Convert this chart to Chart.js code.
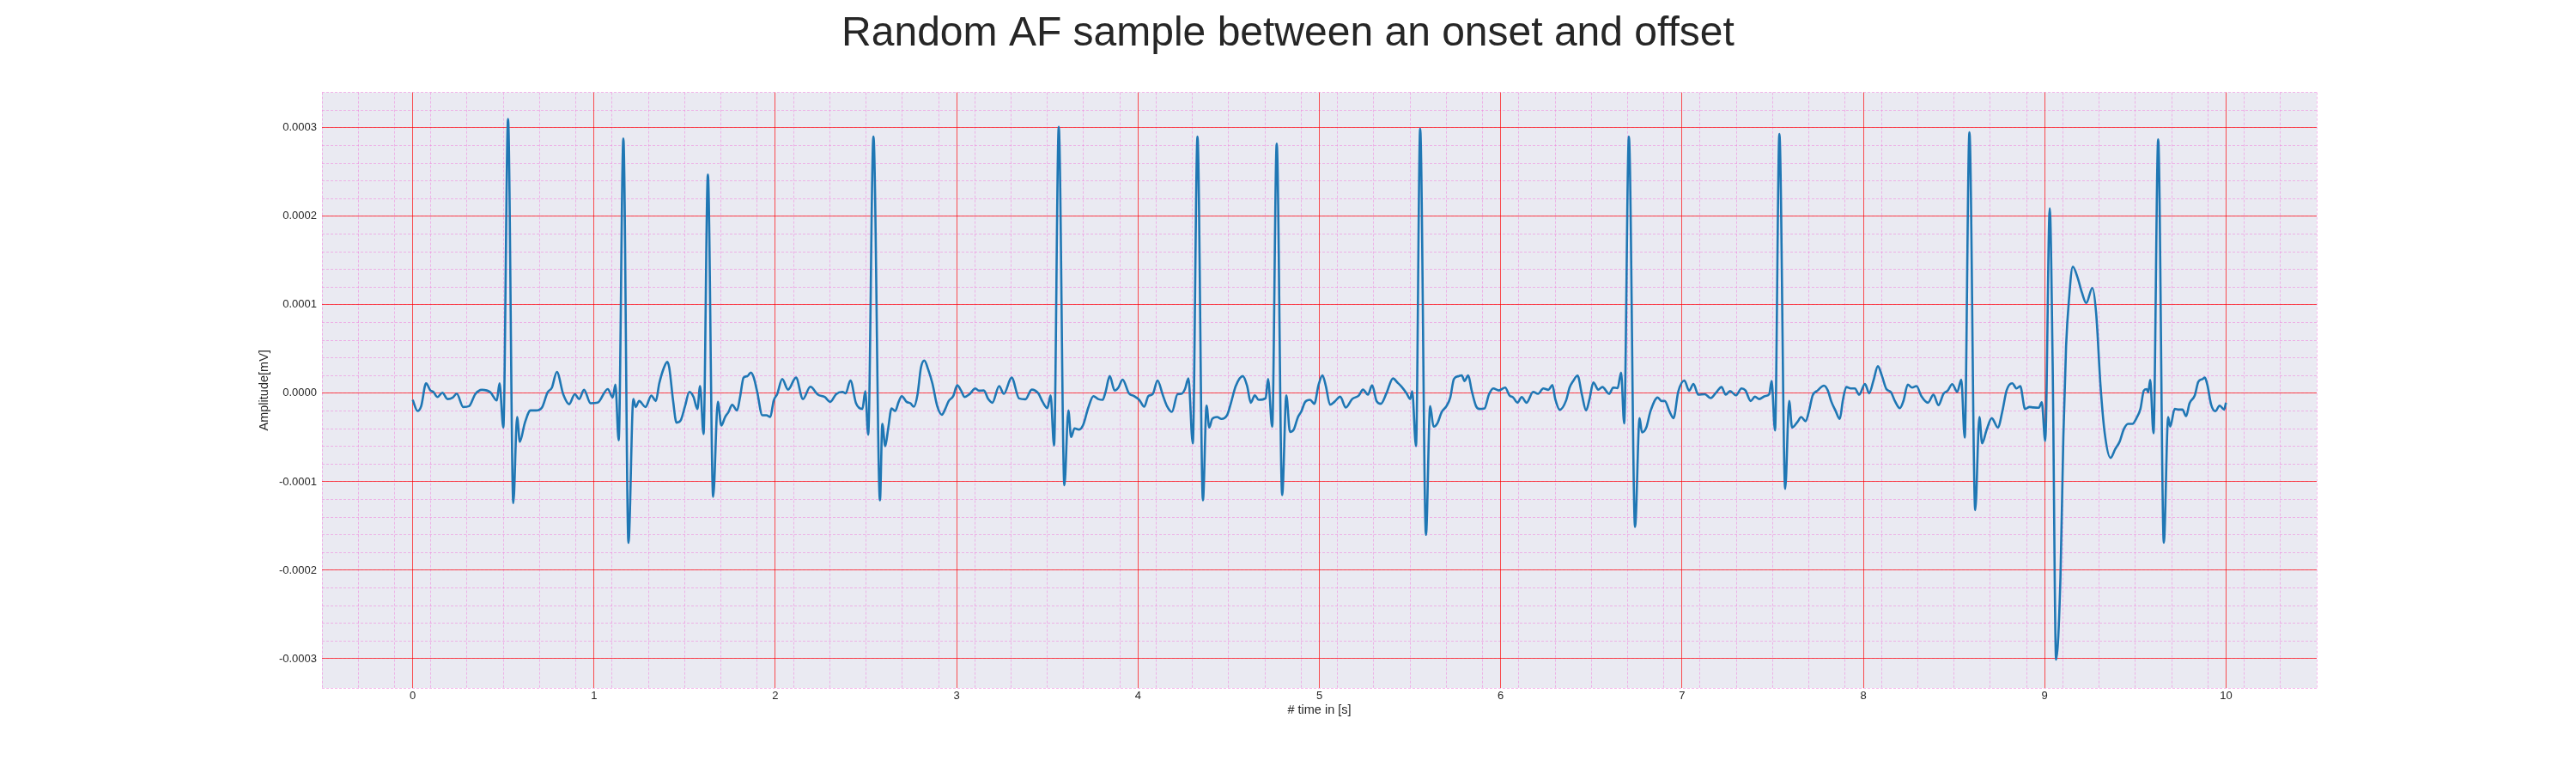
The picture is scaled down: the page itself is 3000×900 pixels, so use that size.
<!DOCTYPE html>
<html>
<head>
<meta charset="utf-8">
<title>Random AF sample</title>
<script src="https://cdn.jsdelivr.net/npm/chart.js@4.4.1/dist/chart.umd.min.js"></script>
<style>
  html, body { margin: 0; padding: 0; background: #ffffff; }
  #wrap { width: 3000px; height: 900px; }
</style>
</head>
<body>
<div id="wrap"><canvas id="ecg" width="3000" height="900"></canvas></div>
<script>
// sample times in seconds, one line per second of signal
const timeS = [
  0, 0.027, 0.047, 0.074, 0.098, 0.114, 0.137, 0.164, 0.192, 0.221, 0.243, 0.279, 0.311, 0.345, 0.382, 0.429, 0.464, 0.479, 0.5, 0.526, 0.555, 0.576, 0.591, 0.618, 0.65, 0.681, 0.713, 0.744, 0.768, 0.795, 0.831, 0.863, 0.894, 0.918, 0.945, 0.981,
  1.02, 1.076, 1.103, 1.118, 1.136, 1.162, 1.19, 1.217, 1.23, 1.249, 1.284, 1.316, 1.341, 1.36, 1.384, 1.404, 1.415, 1.436, 1.455, 1.478, 1.502, 1.526, 1.549, 1.57, 1.585, 1.604, 1.628, 1.657, 1.683, 1.702, 1.723, 1.742, 1.762, 1.789, 1.805, 1.825, 1.846, 1.865, 1.88, 1.9, 1.928, 1.951, 1.972, 1.991,
  2.01, 2.038, 2.07, 2.114, 2.152, 2.193, 2.235, 2.272, 2.303, 2.335, 2.37, 2.388, 2.414, 2.445, 2.48, 2.496, 2.512, 2.541, 2.577, 2.59, 2.606, 2.622, 2.641, 2.661, 2.68, 2.697, 2.724, 2.745, 2.764, 2.784, 2.803, 2.822, 2.842, 2.866, 2.893, 2.918, 2.937, 2.956, 2.981,
  3.003, 3.024, 3.044, 3.071, 3.103, 3.123, 3.15, 3.174, 3.197, 3.234, 3.26, 3.303, 3.344, 3.379, 3.414, 3.45, 3.474, 3.5, 3.518, 3.537, 3.563, 3.594, 3.616, 3.631, 3.65, 3.675, 3.698, 3.726, 3.754, 3.781, 3.805, 3.821, 3.844, 3.871, 3.892, 3.915, 3.95, 3.978,
  4.007, 4.034, 4.057, 4.081, 4.108, 4.136, 4.16, 4.187, 4.218, 4.239, 4.259, 4.278, 4.302, 4.328, 4.358, 4.378, 4.393, 4.409, 4.436, 4.46, 4.491, 4.512, 4.539, 4.578, 4.602, 4.622, 4.644, 4.665, 4.704, 4.717, 4.74, 4.765, 4.795, 4.818, 4.838, 4.859, 4.881, 4.901, 4.922, 4.949, 4.972, 4.996,
  5.017, 5.036, 5.059, 5.083, 5.115, 5.146, 5.181, 5.217, 5.241, 5.268, 5.291, 5.316, 5.339, 5.37, 5.406, 5.43, 5.454, 5.481, 5.501, 5.512, 5.533, 5.556, 5.588, 5.611, 5.63, 5.651, 5.675, 5.701, 5.722, 5.742, 5.769, 5.785, 5.801, 5.821, 5.84, 5.864, 5.884, 5.911, 5.935, 5.959, 5.99,
  6.025, 6.048, 6.069, 6.093, 6.116, 6.143, 6.179, 6.206, 6.235, 6.263, 6.285, 6.301, 6.326, 6.361, 6.38, 6.4, 6.424, 6.448, 6.471, 6.49, 6.511, 6.538, 6.561, 6.598, 6.621, 6.645, 6.664, 6.681, 6.707, 6.741, 6.766, 6.779, 6.803, 6.826, 6.866, 6.886, 6.905, 6.932, 6.953, 6.979,
  7.013, 7.039, 7.063, 7.09, 7.126, 7.158, 7.189, 7.218, 7.241, 7.265, 7.297, 7.328, 7.35, 7.379, 7.402, 7.426, 7.457, 7.481, 7.494, 7.513, 7.537, 7.569, 7.591, 7.607, 7.638, 7.657, 7.682, 7.701, 7.72, 7.748, 7.783, 7.804, 7.824, 7.846, 7.87, 7.887, 7.906, 7.93, 7.953, 7.977,
  8.009, 8.032, 8.056, 8.08, 8.103, 8.127, 8.151, 8.174, 8.201, 8.222, 8.245, 8.269, 8.293, 8.32, 8.356, 8.387, 8.414, 8.442, 8.466, 8.49, 8.518, 8.54, 8.559, 8.585, 8.617, 8.64, 8.655, 8.679, 8.708, 8.742, 8.766, 8.79, 8.821, 8.845, 8.865, 8.892, 8.916, 8.937, 8.968, 8.984,
  9.003, 9.028, 9.044, 9.063, 9.087, 9.103, 9.118, 9.134, 9.155, 9.181, 9.205, 9.229, 9.263, 9.284, 9.308, 9.331, 9.363, 9.389, 9.413, 9.437, 9.46, 9.484, 9.508, 9.528, 9.547, 9.563, 9.571, 9.582, 9.6, 9.626, 9.657, 9.681, 9.692, 9.717, 9.739, 9.76, 9.78, 9.799, 9.828, 9.847, 9.871, 9.883, 9.897, 9.918, 9.941, 9.965, 9.989, 10.0
];

// amplitude in mV, same layout as timeS
const ampMV = [
  -0.74e-5, -2.0e-5, -1.45e-5, 1.13e-5, 0.32e-5, 0.16e-5, -0.42e-5, 0.06e-5, -0.65e-5, -0.48e-5, -0.03e-5, -1.55e-5, -1.45e-5, -0.1e-5, 0.39e-5, 0.1e-5, -0.81e-5, 1.13e-5, -3.87e-5, 31.0e-5, -12.4e-5, -2.68e-5, -5.48e-5, -3.39e-5, -1.94e-5, -1.94e-5, -1.61e-5, 0.1e-5, 0.65e-5, 2.42e-5, -0.16e-5, -1.23e-5, -0.1e-5, -0.65e-5, 0.39e-5, -1.13e-5,
  -1.06e-5, 0.48e-5, -0.48e-5, 0.97e-5, -5.32e-5, 28.8e-5, -16.9e-5, -0.65e-5, -1.55e-5, -0.87e-5, -1.55e-5, -0.26e-5, -0.87e-5, 1.13e-5, 2.81e-5, 3.55e-5, 2.9e-5, -0.81e-5, -3.32e-5, -3.06e-5, -1.45e-5, 0.16e-5, -0.42e-5, -1.77e-5, 0.81e-5, -4.61e-5, 24.7e-5, -11.7e-5, -0.97e-5, -3.65e-5, -2.68e-5, -2.1e-5, -1.29e-5, -1.94e-5, -0.48e-5, 1.77e-5, 1.94e-5, 2.35e-5, 1.84e-5, 0.16e-5, -2.48e-5, -2.48e-5, -2.68e-5, -0.81e-5,
  -0.1e-5, 1.61e-5, 0.42e-5, 1.77e-5, -0.65e-5, 0.74e-5, -0.16e-5, -0.42e-5, -0.97e-5, -0.1e-5, 0.16e-5, 0, 1.45e-5, -1.13e-5, -1.77e-5, 0.23e-5, -4.68e-5, 29.0e-5, -12.1e-5, -3.45e-5, -5.97e-5, -4.03e-5, -1.71e-5, -2.0e-5, -0.97e-5, -0.32e-5, -0.97e-5, -1.13e-5, -1.52e-5, -0.16e-5, 2.9e-5, 3.71e-5, 2.74e-5, 1.13e-5, -1.45e-5, -2.42e-5, -1.77e-5, -0.87e-5, -0.32e-5,
  0.9e-5, 0.32e-5, -0.42e-5, -0.1e-5, 0.55e-5, 0.29e-5, 0.32e-5, -0.65e-5, -1.06e-5, 0.81e-5, -0.06e-5, 1.77e-5, -0.58e-5, -0.68e-5, 0.42e-5, 0, -0.97e-5, -1.68e-5, -0.23e-5, -5.9e-5, 30.1e-5, -10.4e-5, -1.94e-5, -4.94e-5, -3.97e-5, -4.1e-5, -3.55e-5, -1.61e-5, -0.32e-5, -0.65e-5, -0.74e-5, 0.16e-5, 1.94e-5, 0.32e-5, 0.65e-5, 1.55e-5, 0, -0.32e-5,
  -0.74e-5, -1.52e-5, -0.32e-5, -0.1e-5, 1.45e-5, -0.16e-5, -1.45e-5, -2.1e-5, -0.1e-5, -0.06e-5, 0.48e-5, 1.68e-5, -5.65e-5, 29.0e-5, -12.1e-5, -1.39e-5, -3.87e-5, -2.9e-5, -2.68e-5, -2.9e-5, -2.48e-5, -1.13e-5, 0.81e-5, 1.94e-5, 0.81e-5, -1.06e-5, -0.23e-5, -0.74e-5, -0.55e-5, 1.61e-5, -3.77e-5, 28.2e-5, -11.5e-5, -0.23e-5, -4.36e-5, -4.1e-5, -2.74e-5, -2.03e-5, -0.97e-5, -0.74e-5, -1.19e-5, 0.97e-5,
  2.03e-5, 0.81e-5, -1.29e-5, -0.97e-5, -0.39e-5, -1.61e-5, -0.65e-5, -0.26e-5, 0.42e-5, -0.16e-5, 0.9e-5, -0.9e-5, -1.19e-5, 0, 1.68e-5, 1.23e-5, 0.74e-5, 0, -0.65e-5, 0.23e-5, -5.97e-5, 29.9e-5, -16.0e-5, -1.45e-5, -3.77e-5, -3.39e-5, -2.1e-5, -1.45e-5, -0.48e-5, 1.61e-5, 1.94e-5, 2.03e-5, 1.39e-5, 2.03e-5, 0.32e-5, -1.45e-5, -1.77e-5, -1.71e-5, -0.16e-5, 0.55e-5, 0.32e-5,
  0.65e-5, -0.23e-5, -0.48e-5, -1.06e-5, -0.42e-5, -1.06e-5, 0.16e-5, -0.06e-5, 0.55e-5, 0.39e-5, 0.94e-5, -0.65e-5, -1.87e-5, -0.8e-5, 0.65e-5, 1.39e-5, 2.0e-5, -0.16e-5, -1.94e-5, -0.65e-5, 1.23e-5, 0.42e-5, 0.71e-5, -0.06e-5, 0.65e-5, 0.58e-5, 2.35e-5, -3.39e-5, 29.0e-5, -15.1e-5, -2.81e-5, -4.42e-5, -3.87e-5, -2.03e-5, -0.48e-5, -0.87e-5, -0.87e-5, -2.1e-5, -2.81e-5, 0.16e-5,
  1.45e-5, 0.29e-5, 1.06e-5, -0.16e-5, -0.1e-5, -0.55e-5, 0.1e-5, 0.71e-5, -0.16e-5, 0.26e-5, -0.23e-5, 0.55e-5, 0.32e-5, -0.87e-5, -0.39e-5, -0.65e-5, -0.32e-5, -0.1e-5, 1.39e-5, -4.19e-5, 29.3e-5, -10.8e-5, -0.87e-5, -3.87e-5, -3.2e-5, -2.68e-5, -3.16e-5, -1.94e-5, -0.26e-5, 0.32e-5, 0.87e-5, 0.32e-5, -0.97e-5, -1.94e-5, -2.9e-5, -0.81e-5, 0.71e-5, 0.55e-5, 0.55e-5, -0.16e-5,
  1.06e-5, 0, 1.45e-5, 3.06e-5, 1.94e-5, 0.48e-5, 0.16e-5, -0.87e-5, -1.68e-5, -0.81e-5, 0.97e-5, 0.65e-5, 0.81e-5, -0.32e-5, -1.06e-5, -0.16e-5, -1.35e-5, -0.06e-5, 0.32e-5, 1.03e-5, 0.16e-5, 1.55e-5, -5.0e-5, 29.5e-5, -13.2e-5, -2.68e-5, -5.65e-5, -4.19e-5, -2.81e-5, -3.87e-5, -2.1e-5, 0.32e-5, 1.13e-5, 0.55e-5, 0.81e-5, -1.77e-5, -1.55e-5, -1.6e-5, -1.63e-5, -1.02e-5,
  -5.39e-5, 20.9e-5, 3.27e-5, -30.1e-5, -20.8e-5, -4.9e-5, 5.3e-5, 10.6e-5, 14.3e-5, 13.1e-5, 11.4e-5, 10.2e-5, 11.9e-5, 9.0e-5, 0.82e-5, -4.49e-5, -7.3e-5, -6.3e-5, -5.48e-5, -4.03e-5, -3.45e-5, -3.45e-5, -2.74e-5, -1.77e-5, 0.32e-5, 0.48e-5, 0.1e-5, 1.52e-5, -4.52e-5, 28.7e-5, -16.9e-5, -2.68e-5, -3.77e-5, -1.77e-5, -1.84e-5, -1.84e-5, -2.58e-5, -1.13e-5, -0.23e-5, 1.29e-5, 1.61e-5, 1.77e-5, 0.97e-5, -1.29e-5, -2.03e-5, -1.39e-5, -1.84e-5, -1.06e-5
];

const xTicks = [0, 1, 2, 3, 4, 5, 6, 7, 8, 9, 10];
const yTicks = [-0.0003, -0.0002, -0.0001, 0, 0.0001, 0.0002, 0.0003];
const xRange = [-0.5, 10.5];
const yRange = [-0.000333, 0.00034];

const FONT = "'Liberation Sans', Arial, sans-serif";
const TEXT = '#262626';
const MAJOR = 'rgba(255, 0, 0, 0.68)';
const MINOR = 'rgba(238, 130, 220, 0.55)';

/* seaborn-like grey panel behind the grid */
const plotBackground = {
  id: 'plotBackground',
  beforeDraw(chart) {
    const {ctx, chartArea} = chart;
    ctx.save();
    ctx.fillStyle = '#eaeaf2';
    ctx.fillRect(chartArea.left, chartArea.top,
      chartArea.right - chartArea.left, chartArea.bottom - chartArea.top);
    ctx.restore();
  }
};

new Chart(document.getElementById('ecg'), {
  type: 'line',
  data: {
    datasets: [{
      label: 'ECG',
      data: timeS.map((t, i) => ({x: t, y: ampMV[i]})),
      borderColor: '#1f77b4',
      borderWidth: 2.6,
      pointRadius: 0,
      fill: false,
      cubicInterpolationMode: 'monotone',
      xAxisID: 'x',
      yAxisID: 'y'
    }]
  },
  options: {
    responsive: false,
    devicePixelRatio: 1,
    animation: false,
    events: [],
    layout: { padding: 0 },
    plugins: {
      legend: { display: false },
      tooltip: { enabled: false },
      title: {
        display: true,
        text: 'Random AF sample between an onset and offset',
        color: TEXT,
        font: { family: FONT, size: 48, weight: 'normal' },
        padding: { top: 11, bottom: 39 }
      }
    },
    scales: {
      x: {
        type: 'linear',
        position: 'bottom',
        min: xRange[0],
        max: xRange[1],
        afterBuildTicks: s => { s.ticks = xTicks.map(v => ({value: v})); },
        afterFit: s => { s.height = 99; },
        grid: { color: MAJOR, lineWidth: 1, drawTicks: false },
        border: { display: false },
        ticks: {
          color: TEXT,
          font: { family: FONT, size: 13 },
          padding: 2,
          maxRotation: 0,
          autoSkip: false,
          callback: v => String(v)
        },
        title: {
          display: true,
          text: '# time in [s]',
          color: TEXT,
          font: { family: FONT, size: 14.5 },
          padding: { top: 0, bottom: 64 }
        }
      },
      xMinor: {
        type: 'linear',
        position: 'bottom',
        min: xRange[0],
        max: xRange[1],
        afterFit: s => { s.height = 0; },
        grid: { color: MINOR, lineWidth: 1, drawTicks: false, z: -2 },
        border: { display: false, dash: [3, 2] },
        ticks: { display: false, stepSize: 0.2 }
      },
      y: {
        type: 'linear',
        position: 'left',
        min: yRange[0],
        max: yRange[1],
        afterBuildTicks: s => { s.ticks = yTicks.map(v => ({value: v})); },
        afterFit: s => { s.width = 375; },
        grid: { color: MAJOR, lineWidth: 1, drawTicks: false },
        border: { display: false },
        ticks: {
          color: TEXT,
          font: { family: FONT, size: 13 },
          padding: 6,
          callback: v => v.toFixed(4)
        },
        title: {
          display: true,
          text: 'Amplitude[mV]',
          color: TEXT,
          font: { family: FONT, size: 14.5 },
          padding: { top: 299, bottom: 0 }
        }
      },
      yMinor: {
        type: 'linear',
        position: 'right',
        min: yRange[0],
        max: yRange[1],
        afterFit: s => { s.width = 302; },
        grid: { color: MINOR, lineWidth: 1, drawTicks: false, z: -2 },
        border: { display: false, dash: [3, 2] },
        ticks: { display: false, stepSize: 0.00002 }
      }
    }
  },
  plugins: [plotBackground]
});
</script>
</body>
</html>
